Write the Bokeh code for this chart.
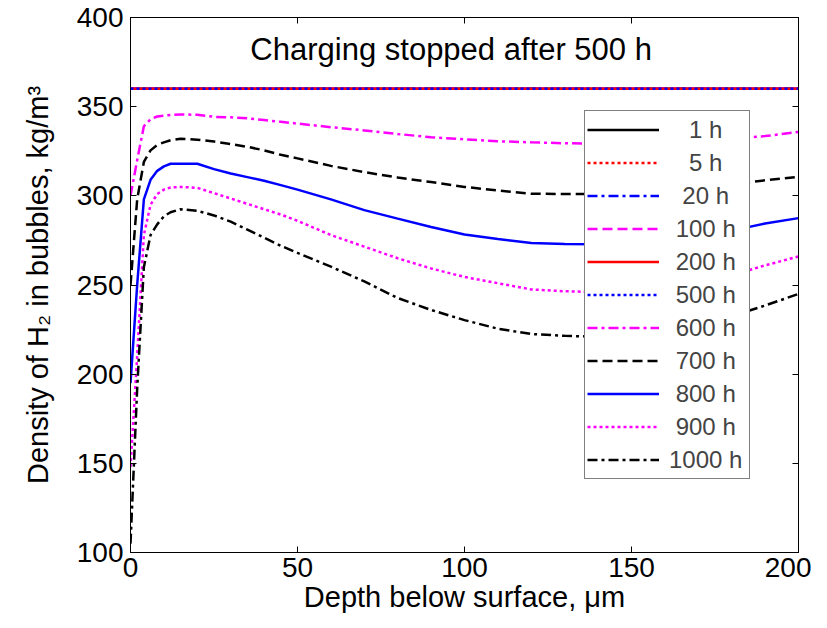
from bokeh.plotting import figure
from bokeh.models import Legend, LegendItem, LinearAxis, Label, Range1d, FixedTicker
from bokeh.embed import file_html
from bokeh.resources import INLINE

# ---------------- data ----------------
depth = [0, 2, 4, 6, 8, 10, 12, 15, 20, 25, 30, 35, 40, 45, 50, 60, 70, 80, 90,
         100, 110, 120, 130, 140, 150, 160, 170, 180, 190, 200]

# during charging (1 h ... 500 h) the density is uniform
flat_depth = [0, 200]
dens_1h = [360, 360]
dens_5h = [360, 360]
dens_20h = [360, 360]
dens_100h = [360, 360]
dens_200h = [360, 360]
dens_500h = [360, 360]

dens_600h = [300, 320, 339, 343, 344.5, 345, 345.4, 345.6, 345.5, 344.3, 344, 343.5,
             342.5, 341.5, 340.5, 338.5, 336.7, 334.7, 332.8, 331.7, 330.6, 330,
             329.5, 329.2, 329.3, 330, 331, 332, 333.5, 335.8]
dens_700h = [250, 298, 319, 325.5, 328.5, 330, 331.2, 332, 331.5, 330.5, 329, 327.5,
             325.5, 323, 321, 316.8, 313.3, 310.3, 307.7, 305, 303, 301.2, 301, 301,
             301.2, 302, 304, 306.5, 308.7, 310.7]
dens_800h = [195, 250, 298, 309, 314, 316.5, 318, 318, 318, 315, 312.5, 310.5, 308.5,
             306, 303.5, 298, 292, 287.2, 282.5, 278.3, 275.8, 273.6, 273, 272.8, 273,
             274.5, 277, 280.5, 284.5, 287.5]
dens_900h = [148, 210, 278, 295, 301, 303.5, 304.7, 305, 304.5, 301.5, 298.5, 295.5,
             292.5, 289.5, 286, 278, 271.5, 265, 259.3, 254.5, 251, 247.5, 246.5, 246,
             246, 247.5, 251, 255.5, 261, 266]
dens_1000h = [105, 192, 260, 278, 284, 288.5, 290.8, 292.5, 291.6, 289, 285.5, 281,
              276.5, 272, 268, 260.3, 252, 242.7, 236, 230.3, 225.5, 222.5, 221.5, 221,
              221.3, 223, 227, 232.5, 238.5, 245]

labels = ["1 h", "5 h", "20 h", "100 h", "200 h", "500 h",
          "600 h", "700 h", "800 h", "900 h", "1000 h"]
x_ticks = [0, 50, 100, 150, 200]
y_ticks = [100, 150, 200, 250, 300, 350, 400]

x_title = "Depth below surface, μm"
y_title = "Density of H₂ in bubbles, kg/m³"
note = "Charging stopped after 500 h"

FONT = "Liberation Sans"
TICK_FS = "28px"

p = figure(frame_width=668, frame_height=535, output_backend="svg", toolbar_location=None,
           x_range=Range1d(0, 200), y_range=Range1d(100, 400),
           min_border_left=130, min_border_top=17, min_border_right=13, min_border_bottom=56,
           background_fill_color="white", border_fill_color="white")
p.xgrid.visible = False
p.ygrid.visible = False
p.outline_line_color = "black"
p.outline_line_width = 1

for ax, ticks in ((p.xaxis[0], x_ticks), (p.yaxis[0], y_ticks)):
    ax.ticker = FixedTicker(ticks=ticks)
    ax.major_tick_in = 6
    ax.major_tick_out = 0
    ax.minor_tick_line_color = None
    ax.axis_line_color = "black"
    ax.major_tick_line_color = "black"
    ax.major_label_text_font = FONT
    ax.major_label_text_font_size = TICK_FS
    ax.major_label_text_color = "black"
    ax.axis_label_text_font = FONT
    ax.axis_label_text_font_size = "29px"
    ax.axis_label_text_font_style = "normal"
    ax.axis_label_text_color = "black"

p.xaxis[0].axis_label = x_title
p.xaxis[0].major_label_standoff = 5
p.xaxis[0].axis_label_standoff = 1
p.yaxis[0].axis_label = y_title
p.yaxis[0].major_label_standoff = 7
p.yaxis[0].axis_label_standoff = 20

# mirrored tick marks on top and right (labels not painted)
top_ax = LinearAxis(ticker=FixedTicker(ticks=x_ticks), major_tick_in=6, major_tick_out=0,
                    minor_tick_line_color=None, major_label_text_font_size="1px",
                    major_label_text_color=None, major_label_standoff=0)
right_ax = LinearAxis(ticker=FixedTicker(ticks=y_ticks), major_tick_in=6, major_tick_out=0,
                      minor_tick_line_color=None, major_label_text_font_size="1px",
                      major_label_text_color=None, major_label_standoff=0)
p.add_layout(top_ax, "above")
p.add_layout(right_ax, "right")

LW = 2.5
DASH = "10 5"
DOT = "3 3"
DASHDOT = "10 4 3 4"

series = [
    (flat_depth, dens_1h, "black", "solid"),
    (flat_depth, dens_5h, "red", DOT),
    (flat_depth, dens_20h, "blue", DASHDOT),
    (flat_depth, dens_100h, "magenta", DASH),
    (flat_depth, dens_200h, "red", "solid"),
    (flat_depth, dens_500h, "blue", DOT),
    (depth, dens_600h, "magenta", DASHDOT),
    (depth, dens_700h, "black", DASH),
    (depth, dens_800h, "blue", "solid"),
    (depth, dens_900h, "magenta", DOT),
    (depth, dens_1000h, "black", DASHDOT),
]

# centre the labels like the original legend (pad with figure / punctuation spaces)
longest = max(len(s) for s in labels)


def centred(s):
    diff = longest - len(s)
    return "\u2007" * (diff // 2) + ("\u2008" if diff % 2 else "") + s


items = []
for (xs, ys, col, dash), lab in zip(series, labels):
    r = p.line(xs, ys, line_color=col, line_width=LW, line_dash=dash)
    items.append(LegendItem(label=centred(lab), renderers=[r]))

legend = Legend(items=items, location=(454, 73), padding=2, spacing=0,
                label_height=33, glyph_height=33, glyph_width=72, label_standoff=10,
                label_width=78,
                label_text_font=FONT, label_text_font_size="24px",
                border_line_color="black", border_line_width=1,
                background_fill_color="white", background_fill_alpha=1.0,
                margin=0)
p.add_layout(legend, "center")

p.add_layout(Label(x=96, y=382, text=note,
                   text_align="center", text_baseline="middle",
                   text_font=FONT, text_font_size="31px", text_color="black"))

open("out.html", "w").write(file_html(p, INLINE))
